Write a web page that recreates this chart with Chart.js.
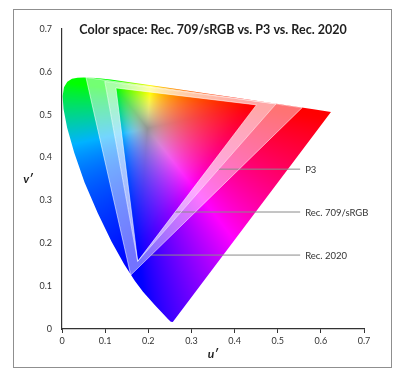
<!DOCTYPE html>
<html>
<head>
<meta charset="utf-8">
<script src="https://cdn.jsdelivr.net/npm/chart.js@4.4.1/dist/chart.umd.min.js"></script>
<style>
  body { margin: 0; background: #fff; }
  #wrap { position: relative; width: 408px; height: 386px; }
  #frame { position: absolute; left: 13px; top: 9px; width: 377px; height: 357px; border: 1.5px solid #8f8f8f; }
  #cie { position: absolute; left: 0; top: 0; }
</style>
</head>
<body>
<div id="wrap"><div id="frame"></div><canvas id="cie" width="408" height="386"></canvas></div>
<script>
// spectral locus, 380 -> 700 nm, CIE 1976 u'v'
var locusU = [0.2568, 0.2522, 0.2461, 0.2347, 0.2161, 0.1877, 0.1690, 0.1441, 0.1147, 0.0828,
              0.0521, 0.0282, 0.0119, 0.0035, 0.0014, 0.0046, 0.0123, 0.0231, 0.0360, 0.0501,
              0.0792, 0.1127, 0.1531, 0.2026, 0.2623, 0.3315, 0.4035, 0.5203, 0.5830, 0.6234];
var locusV = [0.0166, 0.0169, 0.0226, 0.0350, 0.0549, 0.0871, 0.1119, 0.1510, 0.2044, 0.2708,
              0.3427, 0.4117, 0.4698, 0.5131, 0.5432, 0.5638, 0.5770, 0.5837, 0.5861, 0.5868,
              0.5856, 0.5821, 0.5766, 0.5694, 0.5604, 0.5501, 0.5393, 0.5219, 0.5125, 0.5065];

// primaries R, G, B
var rec709U = [0.4507, 0.1250, 0.1754];
var rec709V = [0.5229, 0.5625, 0.1579];
var p3U = [0.4964, 0.0991, 0.1754];
var p3V = [0.5256, 0.5777, 0.1579];
var rec2020U = [0.5566, 0.0556, 0.1593];
var rec2020V = [0.5165, 0.5869, 0.1258];

var calloutLabels = ["P3", "Rec. 709/sRGB", "Rec. 2020"];
var calloutV = [0.373, 0.273, 0.1725];
var calloutEndU = 0.552;

var tickValues = [0, 0.1, 0.2, 0.3, 0.4, 0.5, 0.6, 0.7];
var font = "Lato, 'Open Sans', sans-serif";

function pts(us, vs, close) {
  var out = us.map(function (u, i) { return {x: u, y: vs[i]}; });
  if (close) out.push({x: us[0], y: vs[0]});
  return out;
}

// point on the red -> blue edge of a gamut at a given v'
function edgePoint(us, vs, v) {
  var t = (v - vs[2]) / (vs[0] - vs[2]);
  return us[2] + t * (us[0] - us[2]);
}

var gamuts = [[p3U, p3V], [rec709U, rec709V], [rec2020U, rec2020V]];
var callouts = calloutV.map(function (v, i) {
  return [{x: edgePoint(gamuts[i][0], gamuts[i][1], v), y: v}, {x: calloutEndU, y: v}];
});

function gam(c) { return c <= 0.0031308 ? 12.92 * c : 1.055 * Math.pow(c, 1 / 2.4) - 0.055; }

function chromaColor(u, v) {
  var d = 6 * u - 16 * v + 12;
  var x = 9 * u / d, y = 4 * v / d;
  var X = x / y, Y = 1, Z = (1 - x - y) / y;
  var r = 3.2406 * X - 1.5372 * Y - 0.4986 * Z;
  var g = -0.9689 * X + 1.8758 * Y + 0.0415 * Z;
  var b = 0.0557 * X - 0.2040 * Y + 1.0570 * Z;
  r = Math.max(r, 0); g = Math.max(g, 0); b = Math.max(b, 0);
  var m = Math.max(r, g, b) || 1;
  r = Math.pow(r / m, 1.7); g = Math.pow(g / m, 1.7); b = Math.pow(b / m, 1.7);
  var sat = 1 - Math.min(r, g, b);
  r = gam(r); g = gam(g); b = gam(b);
  g = g * (1 - 0.3 * b * (1 - r));   // tone the cyans down toward azure/teal
  var k = 0.58 + 0.42 * Math.pow(sat, 1.2);
  return [r * 255 * k, g * 255 * k, b * 255 * k];
}

function addPoly(ctx, meta) {
  meta.data.forEach(function (p, i) { if (i === 0) ctx.moveTo(p.x, p.y); else ctx.lineTo(p.x, p.y); });
  ctx.closePath();
}

var fieldPlugin = {
  id: "field",
  beforeDatasetsDraw: function (chart) {
    var ctx = chart.ctx, a = chart.chartArea;
    var xs = chart.scales.x, ys = chart.scales.y;
    var w = Math.ceil(a.right - a.left), h = Math.ceil(a.bottom - a.top);
    var off = document.createElement("canvas");
    off.width = w; off.height = h;
    var octx = off.getContext("2d");
    var img = octx.createImageData(w, h);
    for (var py = 0; py < h; py++) {
      var v = ys.getValueForPixel(a.top + py + 0.5);
      for (var px = 0; px < w; px++) {
        var u = xs.getValueForPixel(a.left + px + 0.5);
        var c = chromaColor(Math.max(u, 0.0005), Math.max(v, 0.002));
        var k = (py * w + px) * 4;
        img.data[k] = c[0]; img.data[k + 1] = c[1]; img.data[k + 2] = c[2]; img.data[k + 3] = 255;
      }
    }
    octx.putImageData(img, 0, 0);

    ctx.save();
    ctx.beginPath();
    addPoly(ctx, chart.getDatasetMeta(0));
    ctx.clip();
    ctx.drawImage(off, a.left, a.top);

    // Rec. 2020 minus P3
    ctx.beginPath();
    addPoly(ctx, chart.getDatasetMeta(3));
    addPoly(ctx, chart.getDatasetMeta(2));
    ctx.fillStyle = "rgba(255,255,255,0.45)";
    ctx.fill("evenodd");
    // P3 minus Rec. 709
    ctx.beginPath();
    addPoly(ctx, chart.getDatasetMeta(2));
    addPoly(ctx, chart.getDatasetMeta(1));
    ctx.fillStyle = "rgba(255,255,255,0.66)";
    ctx.fill("evenodd");
    ctx.restore();
  },
  afterDraw: function (chart) {
    var ctx = chart.ctx, a = chart.chartArea;
    ctx.save();
    ctx.fillStyle = "#1e1e1e";
    ctx.textAlign = "center";
    ctx.textBaseline = "middle";
    ctx.font = "bold 12.5px " + font;
    ctx.fillText("Color space: Rec. 709/sRGB vs. P3 vs. Rec. 2020", (a.left + a.right) / 2, a.top + 1);
    ctx.font = "italic bold 12px " + font;
    ctx.fillText("u\u2032", (a.left + a.right) / 2, a.bottom + 25);
    ctx.fillText("v\u2032", a.left - 34, (a.top + a.bottom) / 2);
    ctx.font = "9.5px " + font;
    ctx.fillStyle = "#333";
    ctx.textAlign = "left";
    calloutLabels.forEach(function (t, i) {
      var p = chart.getDatasetMeta(4 + i).data[1];
      ctx.fillText(t, p.x + 5, p.y + 0.5);
    });
    ctx.restore();
  }
};

function fmt(v) { return v === 0 ? "0" : v.toFixed(1); }

var edge = "rgba(255,255,255,0.55)";
new Chart("cie", {
  type: "scatter",
  data: {
    datasets: [
      {data: pts(locusU, locusV, true), showLine: true, borderWidth: 0, pointRadius: 0},
      {data: pts(rec709U, rec709V, true), showLine: true, borderColor: edge, borderWidth: 1, pointRadius: 0},
      {data: pts(p3U, p3V, true), showLine: true, borderColor: edge, borderWidth: 1, pointRadius: 0},
      {data: pts(rec2020U, rec2020V, true), showLine: true, borderColor: edge, borderWidth: 1, pointRadius: 0},
      {data: callouts[0], showLine: true, borderColor: "#8a8a8a", borderWidth: 1, pointRadius: 0},
      {data: callouts[1], showLine: true, borderColor: "#8a8a8a", borderWidth: 1, pointRadius: 0},
      {data: callouts[2], showLine: true, borderColor: "#8a8a8a", borderWidth: 1, pointRadius: 0}
    ]
  },
  options: {
    responsive: false,
    animation: false,
    layout: {padding: {top: 29, right: 44, left: 0, bottom: 0}},
    plugins: {legend: {display: false}, tooltip: {enabled: false}},
    scales: {
      x: {
        type: "linear", min: 0, max: 0.7,
        afterBuildTicks: function (s) { s.ticks = tickValues.map(function (v) { return {value: v}; }); },
        ticks: {callback: fmt, color: "#333", padding: 3, maxRotation: 0, font: {family: font, size: 9}},
        grid: {drawOnChartArea: false, drawTicks: true, tickLength: 4, color: "#333"},
        border: {color: "#333", width: 1.2},
        afterFit: function (s) { s.height = 57; }
      },
      y: {
        type: "linear", min: 0, max: 0.7,
        afterBuildTicks: function (s) { s.ticks = tickValues.map(function (v) { return {value: v}; }); },
        ticks: {callback: fmt, color: "#333", padding: 10, font: {family: font, size: 9}},
        grid: {drawOnChartArea: false, drawTicks: false},
        border: {color: "#333", width: 1.2},
        afterFit: function (s) { s.width = 62; }
      }
    }
  },
  plugins: [fieldPlugin]
});
</script>
</body>
</html>
